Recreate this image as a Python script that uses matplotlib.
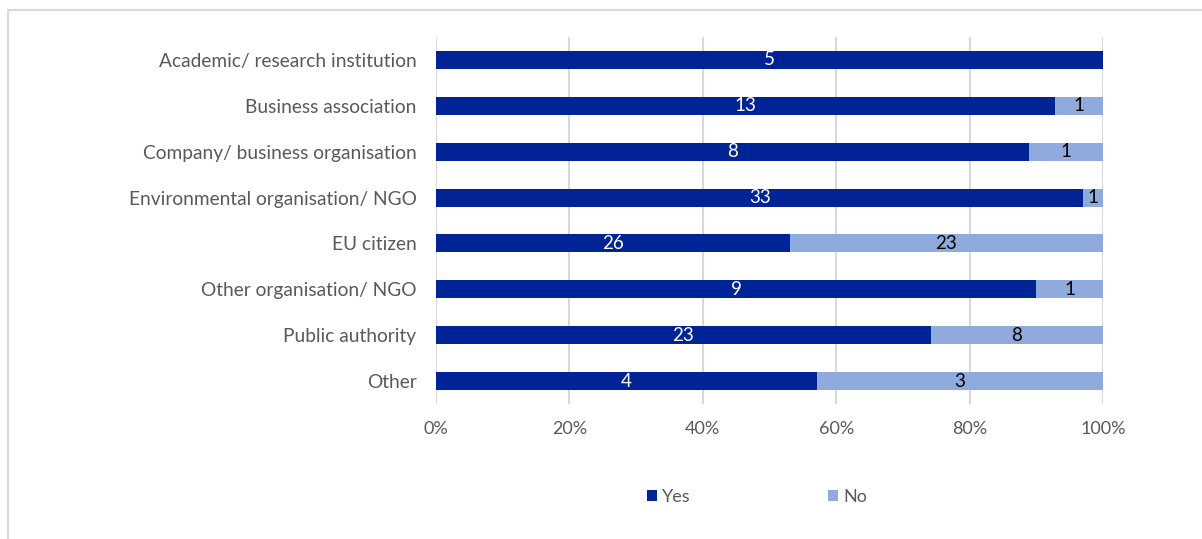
import matplotlib
matplotlib.use("Agg")
import matplotlib.pyplot as plt
from matplotlib.patches import Rectangle
import numpy as np

categories = ["Academic/ research institution", "Business association",
              "Company/ business organisation", "Environmental organisation/ NGO",
              "EU citizen", "Other organisation/ NGO", "Public authority", "Other"]
yes = [5, 13, 8, 33, 26, 9, 23, 4]
no = [0, 1, 1, 1, 23, 1, 8, 3]
xticks = [0, 20, 40, 60, 80, 100]

dark = "#002395"
light = "#8FAADC"
grey = "#595959"

plt.rcParams["font.family"] = ["Lato", "DejaVu Sans"]

fig = plt.figure(figsize=(12.02, 5.39), dpi=100)
ax = fig.add_axes([436 / 1202, 1 - 404 / 539, (1103 - 436) / 1202, (404 - 37) / 539])

# outer chart border (top and left visible)
fig.patches.append(Rectangle((8 / 1202, -0.1), 1.2, 1 - 10 / 539 + 0.1,
                             transform=fig.transFigure, fill=False,
                             edgecolor="#D9D9D9", linewidth=1.5))

yes_a = np.array(yes, dtype=float)
no_a = np.array(no, dtype=float)
tot = yes_a + no_a
yes_p = yes_a / tot * 100
no_p = no_a / tot * 100
y = np.arange(len(categories))

ax.barh(y, yes_p, height=0.39, color=dark, label="Yes", zorder=3)
ax.barh(y, no_p, left=yes_p, height=0.39, color=light, label="No", zorder=3)

for i in range(len(categories)):
    ax.text(yes_p[i] / 2, y[i], str(yes[i]), color="white", ha="center",
            va="center", fontsize=13.5, zorder=4)
    if no[i] > 0:
        ax.text(yes_p[i] + no_p[i] / 2, y[i], str(no[i]), color="black",
                ha="center", va="center", fontsize=13.5, zorder=4)

ax.set_xlim(0, 100)
ax.set_ylim(len(categories) - 0.5, -0.5)
ax.set_xticks(xticks)
ax.set_xticklabels([f"{t}%" for t in xticks])
ax.set_yticks(y)
ax.set_yticklabels(categories)
ax.tick_params(axis="both", length=0, colors=grey)
ax.tick_params(axis="x", pad=12, labelsize=13)
ax.tick_params(axis="y", pad=14, labelsize=13.8)
ax.grid(axis="x", color="#D9D9D9", linewidth=1.5, zorder=0)
for s in ax.spines.values():
    s.set_visible(False)

leg = fig.legend(loc="center", bbox_to_anchor=(0.63, 1 - 497 / 539), ncol=2,
                 frameon=False, fontsize=13, handlelength=0.55, handleheight=0.55,
                 columnspacing=7.6, handletextpad=0.3)
for t in leg.get_texts():
    t.set_color(grey)

fig.savefig("out.png", dpi=100)
